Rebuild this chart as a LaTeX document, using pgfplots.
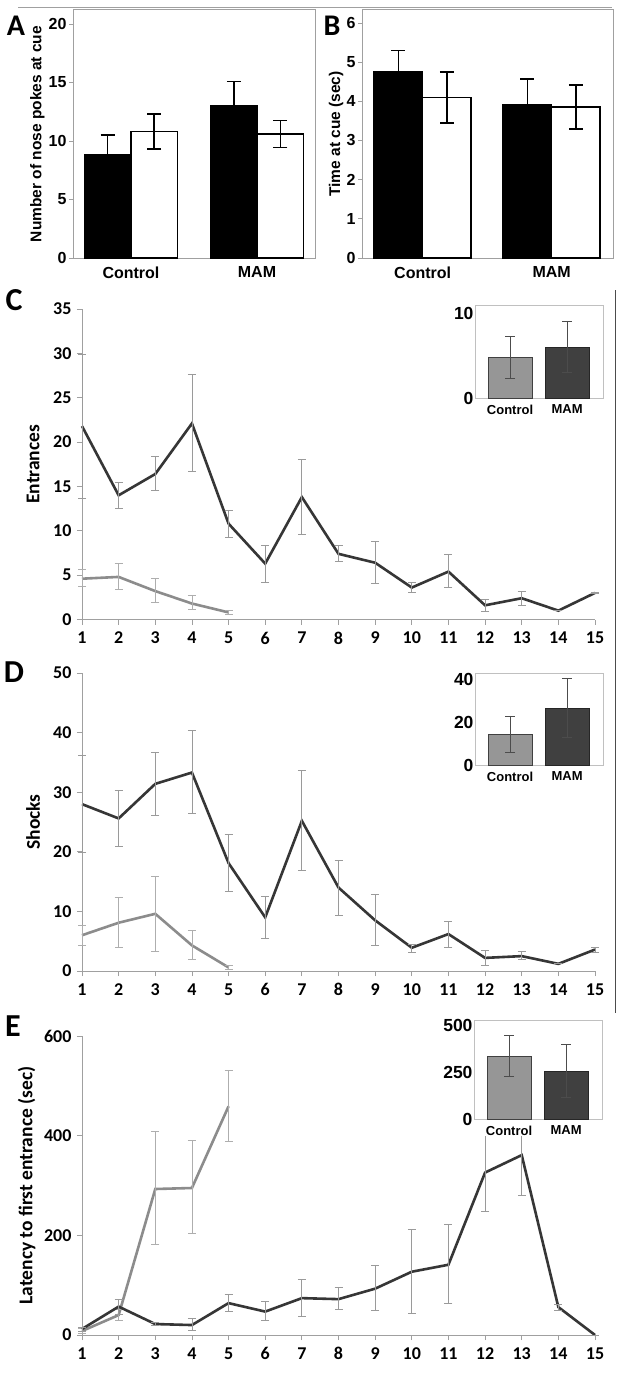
\documentclass[border=0pt]{standalone}
\usepackage{pgfplots}
\pgfplotsset{compat=1.18}
\usepackage{pgfplotstable}
\usepackage{fontspec}
\setmainfont{Liberation Sans}
\newfontfamily\calib{Carlito}
\definecolor{mamline}{HTML}{363636}
\definecolor{conline}{HTML}{8C8C8C}
\definecolor{errgray}{HTML}{9A9A9A}
\definecolor{frame}{HTML}{A0A0A0}
\definecolor{frameB}{HTML}{C0C0C0}
\definecolor{conbar}{HTML}{969696}
\definecolor{mambar}{HTML}{404040}

\pgfplotstableread{
x y ep em
1 21.8 8.1 8.1
2 14.0 1.5 1.5
3 16.4 2.0 1.9
4 22.1 5.5 5.4
5 10.8 1.5 1.5
6 6.3 2.0 2.1
7 13.8 4.2 4.2
8 7.4 1.0 0.9
9 6.4 2.4 2.3
10 3.6 0.6 0.6
11 5.4 1.9 1.8
12 1.6 0.7 0.7
13 2.4 0.8 0.8
14 1.0 0 0
15 3.0 0.1 0.1
}\Cmam
\pgfplotstableread{
x y ep em
1 4.6 1.0 0.9
2 4.8 1.5 1.4
3 3.2 1.4 1.3
4 1.8 0.9 0.7
5 0.8 0.2 0.2
}\Ccon
\pgfplotstableread{
x y ep em
1 28.0 8.1 8.1
2 25.6 4.7 4.7
3 31.4 5.3 5.3
4 33.3 7.0 6.8
5 18.1 4.8 4.7
6 9.0 3.5 3.5
7 25.2 8.4 8.3
8 14.0 4.6 4.6
9 8.5 4.3 4.2
10 3.9 0.6 0.7
11 6.2 2.2 2.3
12 2.2 1.2 1.3
13 2.5 0.8 0.6
14 1.2 0 0
15 3.6 0.4 0.4
}\Dmam
\pgfplotstableread{
x y ep em
1 6.0 1.6 1.7
2 8.1 4.3 4.2
3 9.6 6.2 6.3
4 4.3 2.5 2.4
5 0.6 0.3 0.3
}\Dcon
\pgfplotstableread{
x y ep em
1 12 4 4
2 57 15 15
3 22 3 2
4 20 14 10
5 64 17 16
6 47 20 17
7 74 38 37
8 72 24 20
9 93 46 43
10 127 85 84
11 141 80 78
12 326 78 78
13 361 80 81
14 56 6 6
15 0 0 0
}\Emam
\pgfplotstableread{
x y ep em
1 8 5 5
2 40 11 11
3 293 115 111
4 295 96 92
5 459 72 71
}\Econ

\pgfplotsset{
  /pgf/number format/assume math mode=true,
  barAB/.style={
    scale only axis, height=248pt,
    axis line style={frame, line width=1pt},
    xtick={0,1}, xticklabels={Control,MAM},
    xtick style={draw=none},
    ytick pos=left,
    ytick style={frame, line width=0.8pt},
    tick align=outside, major tick length=4pt,
    ymin=0,
    xticklabel style={font=\fontsize{16}{18}\selectfont\bfseries, yshift=-1pt},
    yticklabel style={font=\fontsize{16}{18}\selectfont\bfseries, xshift=1pt},
    ylabel style={font=\fontsize{15.5}{17}\selectfont\bfseries, rotate=0},
    ybar,
    error bars/error bar style={black, line width=1.5pt},
    error bars/error mark options={rotate=90, mark size=7pt, line width=1.5pt, black},
  },
  lineax/.style={
    scale only axis, width=513pt, xmin=1, xmax=15, ymin=0,
    axis x line*=bottom, axis y line*=left,
    axis line style={frame, line width=1pt, -},
    xtick={1,...,15}, tick align=outside, major tick length=5pt,
    tick style={frame, line width=0.8pt},
    tick label style={font=\calib\fontsize{18}{20}\selectfont\bfseries},
    xticklabel style={yshift=-4pt},
    yticklabel style={xshift=-2pt},
    ylabel style={font=\calib\fontsize{19.5}{21}\selectfont\bfseries},
    clip=false,
  },
  mamst/.style={mamline, line width=2.6pt, mark=none,
    error bars/.cd, y dir=both, y explicit,
    error bar style={errgray, line width=0.8pt},
    error mark options={rotate=90, mark size=4pt, line width=0.8pt, errgray}},
  const/.style={conline, line width=2.6pt, mark=none,
    error bars/.cd, y dir=both, y explicit,
    error bar style={errgray!80, line width=0.8pt},
    error mark options={rotate=90, mark size=4pt, line width=0.8pt, errgray!80}},
  inset/.style={
    scale only axis, width=128pt, xmin=-0.614, xmax=1.63, ymin=0,
    axis line style={frameB, line width=0.8pt},
    axis background/.style={fill=white},
    xtick={0,1}, xticklabels={Control,MAM},
    xtick style={draw=none}, ytick style={draw=none},
    xticklabel style={font=\fontsize{13}{15}\selectfont\bfseries, yshift=1pt},
    yticklabel style={font=\fontsize{17.5}{19}\selectfont\bfseries, xshift=2pt},
    ybar, bar width=0.77,
    error bars/error bar style={black!70, line width=0.9pt},
    error bars/error mark options={rotate=90, mark size=5pt, line width=0.9pt, black!70},
  },
}

\begin{document}
\begin{tikzpicture}
\useasboundingbox (0pt,0pt) rectangle (622pt,-1375pt);
\fill[white] (0pt,0pt) rectangle (622pt,-1375pt);
\draw[frame, line width=0.8pt] (18pt,-7pt) -- (612pt,-7pt);
\draw[black!70, line width=0.8pt] (615pt,-290pt) -- (615pt,-1013pt);

% Panel A
\begin{axis}[barAB, at={(73pt,-258pt)}, width=242pt,
  xmin=-0.46, xmax=1.46, ymax=21.2, ytick={0,5,10,15,20},
  bar width=0.369,
  ylabel={Number of nose pokes at cue},
  ylabel style={at={(axis description cs:-0.147,0.5)}, anchor=center, rotate=0}]
\addplot[fill=black, draw=black, line width=1.5pt, bar shift=-0.1845,
  error bars/.cd, y dir=both, y explicit]
  coordinates {(0,8.8) +- (0,1.7) (1,13.0) +- (0,2.1)};
\addplot[fill=white, draw=black, line width=1.5pt, bar shift=0.1845,
  error bars/.cd, y dir=both, y explicit]
  coordinates {(0,10.8) +- (0,1.5) (1,10.6) +- (0,1.15)};
\end{axis}
\node[font=\calib\bfseries\fontsize{30}{32}\selectfont] at (16pt,-26pt) {A};

% Panel B
\begin{axis}[barAB, at={(362pt,-258pt)}, width=251pt,
  xmin=-0.47, xmax=1.475, ymax=6.33, ytick={0,1,2,3,4,5,6},
  bar width=0.376,
  ylabel={Time at cue (sec)},
  ylabel style={at={(axis description cs:-0.1036,0.5)}, anchor=center, rotate=0}]
\addplot[fill=black, draw=black, line width=1.5pt, bar shift=-0.188,
  error bars/.cd, y dir=both, y explicit]
  coordinates {(0,4.75) +- (0,0.55) (1,3.92) +- (0,0.65)};
\addplot[fill=white, draw=black, line width=1.5pt, bar shift=0.188,
  error bars/.cd, y dir=both, y explicit]
  coordinates {(0,4.1) +- (0,0.65) (1,3.85) +- (0,0.56)};
\end{axis}
\node[font=\calib\bfseries\fontsize{30}{32}\selectfont] at (332pt,-26pt) {B};

% Panel C
\begin{axis}[lineax, at={(82pt,-619.5pt)}, height=310.5pt, ymax=35,
  ytick={0,5,...,35},
  ylabel={Entrances},
  ylabel style={at={(axis description cs:-0.0955,0.5)}, anchor=center}]
\addplot[const] table[x=x, y=y, y error plus=ep, y error minus=em] {\Ccon};
\addplot[mamst] table[x=x, y=y, y error plus=ep, y error minus=em] {\Cmam};
\end{axis}
\node[font=\calib\bfseries\fontsize{32}{34}\selectfont] at (14pt,-300pt) {C};
\begin{axis}[inset, at={(475pt,-398pt)}, height=93pt, ymax=10.94, ytick={0,10}]
\addplot[fill=conbar, draw=black!75, line width=0.8pt, bar shift=0,
  error bars/.cd, y dir=both, y explicit] coordinates {(0,4.75) +- (0,2.45)};
\addplot[fill=mambar, draw=black!85, line width=0.8pt, bar shift=0,
  error bars/.cd, y dir=both, y explicit] coordinates {(1,6.0) +- (0,2.95)};
\end{axis}

% Panel D
\begin{axis}[lineax, at={(82pt,-971pt)}, height=298pt, ymax=50,
  ytick={0,10,...,50},
  ylabel={Shocks},
  ylabel style={at={(axis description cs:-0.0955,0.5)}, anchor=center}]
\addplot[const] table[x=x, y=y, y error plus=ep, y error minus=em] {\Dcon};
\addplot[mamst] table[x=x, y=y, y error plus=ep, y error minus=em] {\Dmam};
\end{axis}
\node[font=\calib\bfseries\fontsize{32}{34}\selectfont] at (14pt,-672pt) {D};
\begin{axis}[inset, at={(475pt,-765pt)}, height=92pt, ymax=42.8, ytick={0,20,40}]
\addplot[fill=conbar, draw=black!75, line width=0.8pt, bar shift=0,
  error bars/.cd, y dir=both, y explicit] coordinates {(0,14.3) +- (0,8.5)};
\addplot[fill=mambar, draw=black!85, line width=0.8pt, bar shift=0,
  error bars/.cd, y dir=both, y explicit] coordinates {(1,26.4) +- (0,13.8)};
\end{axis}

% Panel E
\begin{axis}[lineax, at={(82pt,-1335pt)}, height=299pt, ymax=600,
  ytick={0,200,400,600},
  ylabel={Latency to first entrance (sec)},
  ylabel style={at={(axis description cs:-0.108,0.5)}, anchor=center}]
\addplot[const] table[x=x, y=y, y error plus=ep, y error minus=em] {\Econ};
\addplot[mamst] table[x=x, y=y, y error plus=ep, y error minus=em] {\Emam};
\end{axis}
\node[font=\calib\bfseries\fontsize{32}{34}\selectfont] at (13pt,-1026pt) {E};
\fill[white] (462pt,-1015pt) rectangle (610pt,-1136pt);
\begin{axis}[inset, at={(474pt,-1119pt)}, height=99pt, ymax=527, ytick={0,250,500}]
\addplot[fill=conbar, draw=black!75, line width=0.8pt, bar shift=0,
  error bars/.cd, y dir=both, y explicit] coordinates {(0,334) +- (0,110)};
\addplot[fill=mambar, draw=black!85, line width=0.8pt, bar shift=0,
  error bars/.cd, y dir=both, y explicit] coordinates {(1,256) +- (0,143)};
\end{axis}
\end{tikzpicture}
\end{document}
